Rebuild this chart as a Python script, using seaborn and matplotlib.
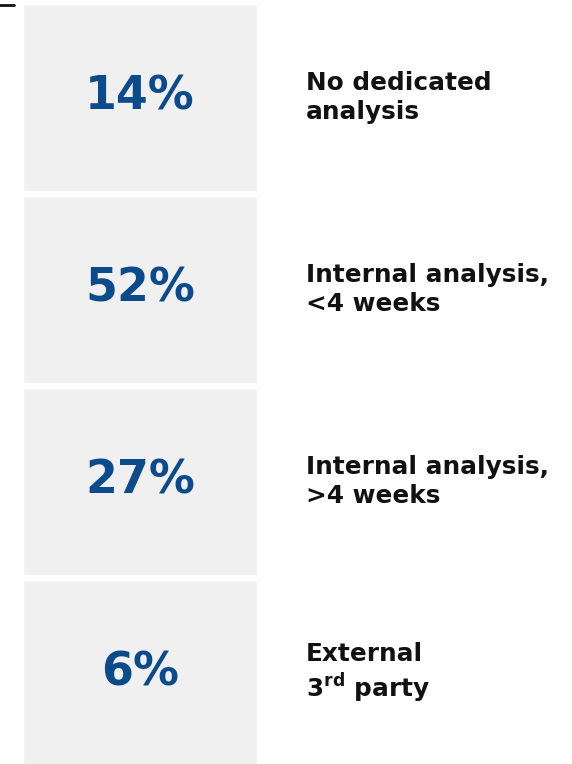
import matplotlib
matplotlib.use("Agg")
import numpy as np
import pandas as pd
import seaborn as sns
from matplotlib import pyplot as plt
from matplotlib.lines import Line2D
from matplotlib.transforms import blended_transform_factory

categories = ["No dedicated analysis", "Internal analysis, <4 weeks",
              "Internal analysis, >4 weeks", "External 3rd party"]
shares = [14, 52, 27, 6]
label_lines = ["No dedicated\nanalysis", "Internal analysis,\n<4 weeks",
               "Internal analysis,\n>4 weeks", "External\n3$^{\\mathbf{rd}}$ party"]

BLUE = "#0b4a8b"
GREY = "#f0f0f0"

sns.set_style("white")
plt.rcParams["font.family"] = ["DejaVu Sans"]
plt.rcParams["mathtext.fontset"] = "dejavusans"

df = pd.DataFrame({"category": categories, "share": shares, "panel": [1] * len(shares)})

W, H = 572, 764
fig = plt.figure(figsize=(W / 100, H / 100), dpi=100)
slot = 192
ax = fig.add_axes([23 / W, (H - (1.5 + 4 * slot)) / H, 234 / W, 4 * slot / H])

sns.barplot(data=df, y="category", x="panel", color=GREY, width=187 / slot,
            saturation=1, ax=ax)
ax.set_xlim(0, 1)
ax.set_ylim(3.5, -0.5)
ax.axis("off")

tr = blended_transform_factory(fig.transFigure, ax.transData)
for i, (s, lab) in enumerate(zip(df["share"], label_lines)):
    ax.text(0.5, i - 0.005, f"{s}%", ha="center", va="center", color=BLUE,
            fontsize=33, fontweight="bold")
    ax.text(306 / W, i, lab, transform=tr, ha="left", va="center",
            color="#111111", fontsize=17.8, fontweight="bold", linespacing=1.22)

fig.add_artist(Line2D([0, 14 / W], [1 - 5 / H, 1 - 5 / H], color="#111111", lw=2))

fig.savefig("out.png", dpi=100)
